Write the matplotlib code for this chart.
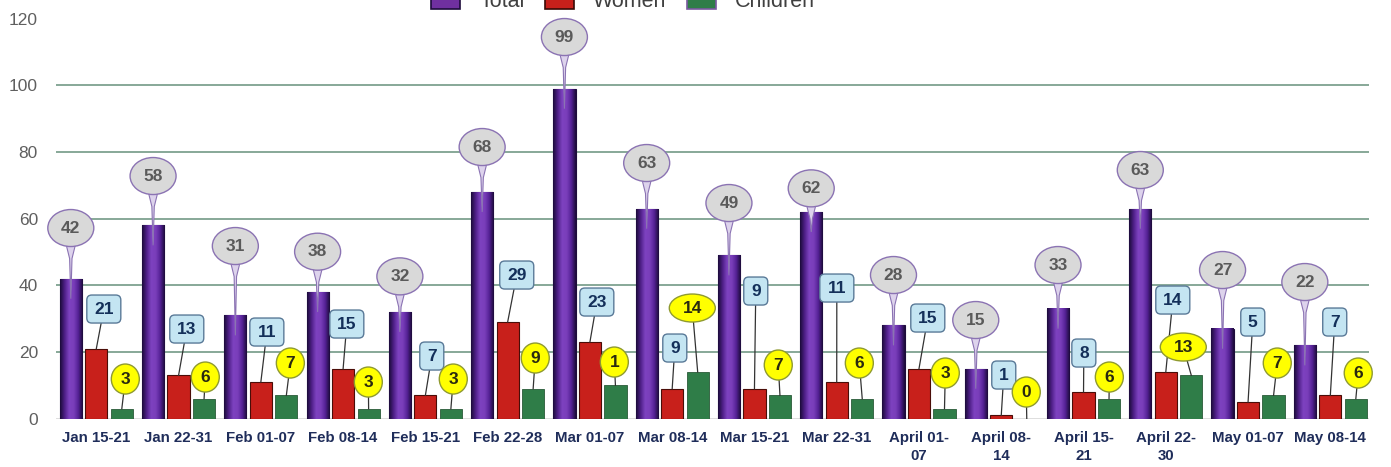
import matplotlib.pyplot as plt
import numpy as np
from matplotlib.colors import LinearSegmentedColormap
from matplotlib.patches import Patch, Ellipse, FancyBboxPatch, Polygon

# data
weeks = ['Jan 15-21', 'Jan 22-31', 'Feb 01-07', 'Feb 08-14', 'Feb 15-21', 'Feb 22-28',
         'Mar 01-07', 'Mar 08-14', 'Mar 15-21', 'Mar 22-31', 'April 01-\n07', 'April 08-\n14',
         'April 15-\n21', 'April 22-\n30', 'May 01-07', 'May 08-14']
total = [42, 58, 31, 38, 32, 68, 99, 63, 49, 62, 28, 15, 33, 63, 27, 22]
women = [21, 13, 11, 15, 7, 29, 23, 9, 9, 11, 15, 1, 8, 14, 5, 7]
children = [3, 6, 7, 3, 3, 9, 10, 14, 7, 6, 3, 0, 6, 13, 7, 6]
# callout text as printed (Mar 01-07 children callout only shows "1")
children_text = ['3', '6', '7', '3', '3', '9', '1', '14', '7', '6', '3', '0', '6', '13', '7', '6']

# callout placement (layout only): label centre height in data units, x shift in pixels
total_lab_y = [57.2, 72.8, 51.8, 50.1, 42.7, 81.5, 114.5, 76.7, 64.7, 69.1, 43.1, 29.6, 46.1, 74.6, 44.6, 41.0]
women_lab_y = [32.9, 26.9, 26.0, 28.4, 18.8, 43.1, 35.0, 21.2, 38.3, 39.2, 30.2, 13.1, 19.7, 35.6, 29.0, 29.0]
women_dx = [7.5, 8.2, 6, 3.7, 6.4, 9.1, 6.9, 2.6, 1.3, 0.1, 8.8, 2.5, 0.3, 7, 4.7, 4.4]
child_lab_y = [11.9, 12.5, 16.7, 11.0, 11.9, 18.2, 17.0, 33.2, 16.1, 16.7, 13.7, 8.0, 12.5, 21.5, 16.7, 13.7]
child_dx = [3.5, 1.2, 4, -0.3, 2.4, 2.1, -1.1, -5.4, -1.7, -2.9, 0.8, -0.5, 0.3, -8, 3.7, 2.4]

plt.rcParams['font.family'] = ['Liberation Sans', 'DejaVu Sans']

W, H = 1391, 467
fig = plt.figure(figsize=(W / 100, H / 100), dpi=100)
ax = fig.add_axes([56 / W, 48.3 / H, (1369 - 56) / W, 400 / H])
xlim = (-0.49, 15.47)
ylim = (0, 120)
pxx = (xlim[1] - xlim[0]) / (1369 - 56)  # data units per pixel, x
pyy = (ylim[1] - ylim[0]) / 400           # data units per pixel, y

x = np.arange(len(weeks))
bw = 0.27
off = 0.31

purple_cmap = LinearSegmentedColormap.from_list(
    'p', ['#1c0b3a', '#4f2088', '#7d42c0', '#7a3eba', '#552296', '#1c0b3a'])
grad = np.linspace(0, 1, 64).reshape(1, -1)

tb = ax.bar(x - off, total, bw, color='#7030a0', edgecolor='#1e0c3c', lw=0.8, zorder=2)
for r in tb:
    x0, w, h = r.get_x(), r.get_width(), r.get_height()
    ax.imshow(grad, cmap=purple_cmap, extent=(x0, x0 + w, 0, h), aspect='auto', zorder=2.1)
ax.bar(x, women, bw, color='#c8201b', edgecolor='#4a0d08', lw=0.8, zorder=2)
ax.bar(x + off, children, bw, color='#2f7d48', edgecolor='#2a5a38', lw=0.6, zorder=2)

# grid and baseline
for g in [20, 40, 60, 80, 100]:
    ax.axhline(g, color='#739a86', lw=1.2, zorder=0)
ax.axhline(0, color='#d4d4d4', lw=1.8, zorder=1)

ax.set_xlim(*xlim)
ax.set_ylim(*ylim)
for s in ax.spines.values():
    s.set_visible(False)
ax.set_yticks(range(0, 121, 20))
ax.tick_params(axis='y', length=0, pad=13, labelsize=12.5, labelcolor='#5f5f5f')
ax.set_xticks(x)
ax.set_xticklabels(weeks)
ax.tick_params(axis='x', length=0, pad=9)
for t in ax.get_xticklabels():
    t.set_fontweight('bold')
    t.set_fontsize(10.8)
    t.set_color('#1f2d5a')
    t.set_linespacing(1.3)

txt = dict(ha='center', va='center', fontsize=12.5, fontweight='bold', zorder=7, clip_on=False)

# callouts
for i in range(len(weeks)):
    # total: grey speech bubble with a tapering pointer
    xt = x[i] - off
    cy = total_lab_y[i]
    bh = 37 * pyy
    tip = total[i] - 6
    ax.add_patch(Polygon([(xt - 6 * pxx, cy - 0.3 * bh), (xt - 1.2 * pxx, cy - 0.5 * bh - 12 * pyy),
                          (xt, tip), (xt + 1.2 * pxx, cy - 0.5 * bh - 12 * pyy),
                          (xt + 6 * pxx, cy - 0.3 * bh)],
                         closed=True, fc='#ddd3ec', ec='#8b73b3', lw=0.8, zorder=5, clip_on=False))
    ax.add_patch(Ellipse((xt, cy), 46 * pxx, bh, fc='#d9d9d9', ec='#8b73b3', lw=1,
                         zorder=6, clip_on=False))
    ax.text(xt, cy, str(total[i]), color='#5a5a5a', **txt)

    # women: light blue rounded box with a leader line
    xw = x[i]
    lx = xw + women_dx[i] * pxx
    ly = women_lab_y[i]
    bwid = (24 if women[i] < 10 else 34) * pxx
    bht = 28 * pyy
    ax.plot([lx, xw], [ly, women[i]], color='#333333', lw=0.9, zorder=4)
    ax.add_patch(FancyBboxPatch((lx - bwid / 2, ly - bht / 2), bwid, bht,
                                boxstyle='round,pad=0,rounding_size=%f' % (5 * pxx),
                                mutation_aspect=pyy / pxx,
                                fc='#c4e5f2', ec='#5a7a98', lw=1, zorder=6, clip_on=False))
    ax.text(lx, ly, str(women[i]), color='#14305a', **txt)

    # children: yellow ellipse with a leader line
    xc = x[i] + off
    lx = xc + child_dx[i] * pxx
    ly = child_lab_y[i]
    two = len(children_text[i]) > 1
    ax.plot([lx, xc], [ly, children[i]], color='#333333', lw=0.9, zorder=4)
    ax.add_patch(Ellipse((lx, ly), (46 if two else 28) * pxx, (28 if two else 30) * pyy,
                         fc='#ffff00', ec='#8f9a30', lw=1, zorder=6, clip_on=False))
    ax.text(lx, ly, children_text[i], color='#2a2a10', **txt)

handles = [Patch(fc='#7030a0', ec='#1e0c3c', lw=1.2, label='Total'),
           Patch(fc='#c8201b', ec='#3a0a06', lw=1.2, label='Women'),
           Patch(fc='#2f7d48', ec='#7a5aa0', lw=1.2, label='Children')]
fig.legend(handles=handles, loc='center', bbox_to_anchor=(0.448, 0.998), ncol=3, frameon=False,
           fontsize=15.5, labelcolor='#404040', handlelength=1.36, handleheight=1.0,
           handletextpad=0.87, columnspacing=0.96, borderaxespad=0)

fig.savefig('out.png', dpi=100)
